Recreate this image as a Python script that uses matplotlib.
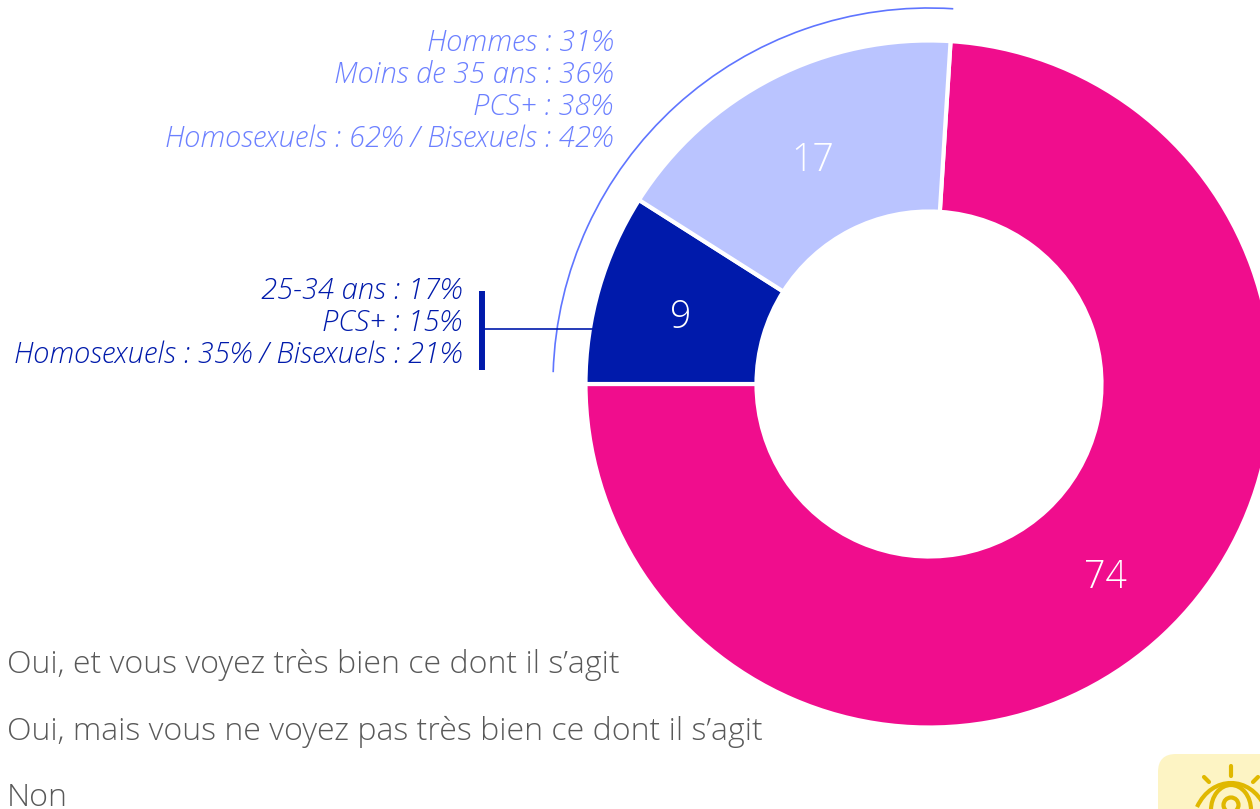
import matplotlib
matplotlib.use("Agg")
import matplotlib.pyplot as plt
from matplotlib.patches import Arc, FancyBboxPatch, Circle, PathPatch
from matplotlib.path import Path

W, H = 1260, 809
categories = ["Oui, et vous voyez très bien ce dont il s’agit",
              "Oui, mais vous ne voyez pas très bien ce dont il s’agit",
              "Non"]
slice_values = [74, 9, 17]
slice_colors = ["#F00D8D", "#001AAB", "#BAC4FF"]
slice_labels = ["74", "9", "17"]
label_px = [(1105, 578), (681, 318), (813, 161)]
light_notes = ["Hommes : 31%", "Moins de 35 ans : 36%", "PCS+ : 38%",
               "Homosexuels : 62% / Bisexuels : 42%"]
dark_notes = ["25-34 ans : 17%", "PCS+ : 15%", "Homosexuels : 35% / Bisexuels : 21%"]

plt.rcParams["font.family"] = ["Open Sans", "DejaVu Sans"]
fig = plt.figure(figsize=(W / 100, H / 100), dpi=100, facecolor="white")
ax = fig.add_axes([0, 0, 1, 1])
ax.set_xlim(0, W)
ax.set_ylim(0, H)
ax.axis("off")
Y = lambda py: H - py
cx, cy, R, r = 929, Y(384), 343.5, 172.5

ax.pie(slice_values, colors=slice_colors, startangle=86.4, counterclock=False,
       center=(cx, cy), radius=R, frame=False,
       wedgeprops=dict(width=R - r, edgecolor="white", linewidth=3))
ax.set_xlim(0, W)
ax.set_ylim(0, H)
ax.set_aspect("equal")

for t, (px, py) in zip(slice_labels, label_px):
    ax.text(px, Y(py), t, color="white", fontsize=27, fontweight="light",
            ha="center", va="center")

ax.add_patch(Arc((cx, cy), 752, 752, theta1=86.3, theta2=178.2, color="#5F75FF", lw=1.2))

for t, py in zip(light_notes, [43, 75, 107, 139]):
    ax.text(613, Y(py), t, color="#6C80FF", fontsize=21, style="italic",
            fontweight="light", ha="right", va="center")
for t, py in zip(dark_notes, [291, 323, 355]):
    ax.text(462, Y(py), t, color="#001AAB", fontsize=21, style="italic",
            fontweight="light", ha="right", va="center")

ax.plot([482, 482], [Y(291), Y(370)], color="#001AAB", lw=4.3, solid_capstyle="butt")
ax.plot([484, 593], [Y(329), Y(329)], color="#001AAB", lw=1.2)

for t, py in zip(categories, [673, 740, 806]):
    ax.text(7, Y(py), t, color="#595959", fontsize=23.1, fontweight="light",
            ha="left", va="baseline")

# eye badge
ax.add_patch(FancyBboxPatch((1158, -40), 160, Y(754) + 40,
                            boxstyle="round,pad=0,rounding_size=18",
                            fc="#FDF4C4", ec="none", lw=0))
gold = "#E0B800"
ax.plot([1231, 1231], [Y(766), Y(776)], color=gold, lw=3, solid_capstyle="round")
ax.plot([1204, 1209], [Y(777), Y(782)], color=gold, lw=3, solid_capstyle="round")
ax.plot([1258, 1253], [Y(777), Y(782)], color=gold, lw=3, solid_capstyle="round")
eye = Path([(1197, Y(807)), (1212, Y(775)), (1250, Y(775)), (1265, Y(807))],
           [Path.MOVETO, Path.CURVE4, Path.CURVE4, Path.CURVE4])
ax.add_patch(PathPatch(eye, fc="none", ec=gold, lw=3))
ax.add_patch(Arc((1231, Y(810)), 40, 50, theta1=0, theta2=180, color=gold, lw=3))
ax.add_patch(Circle((1231, Y(805)), 7.5, fc="none", ec=gold, lw=3))

fig.savefig("out.png", dpi=100)
